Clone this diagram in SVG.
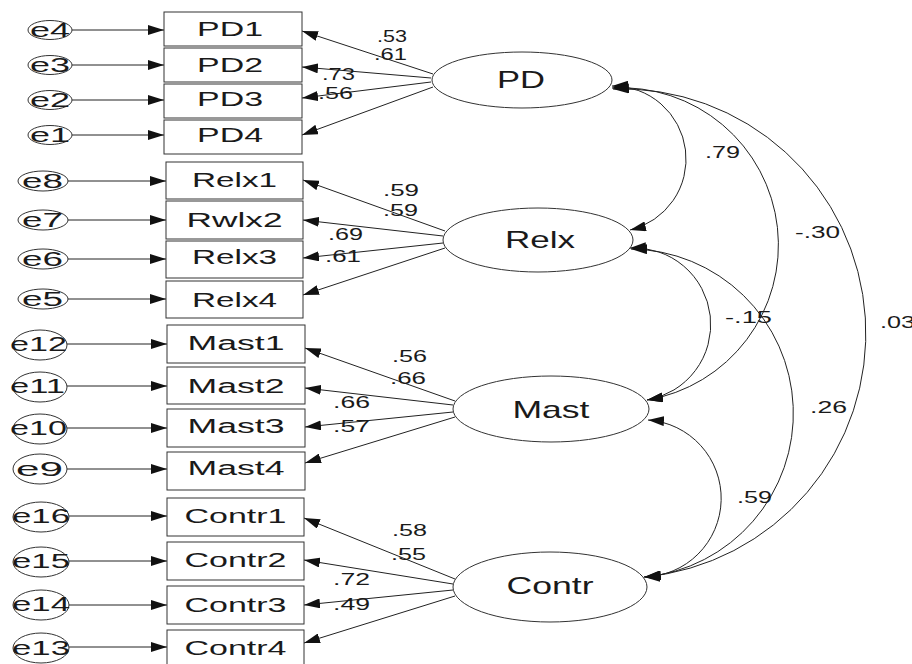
<svg xmlns="http://www.w3.org/2000/svg" width="912" height="664" viewBox="0 0 912 664">
<defs>
<marker id="ah" viewBox="0 0 16 10" refX="16" refY="5" markerWidth="16" markerHeight="10" markerUnits="userSpaceOnUse" orient="auto-start-reverse"><path d="M0,0 L16,5 L0,10 z" fill="#111"/></marker>
<style>
text{font-family:"Liberation Sans",Arial,sans-serif;fill:#1a1a1a;}
.box{fill:#fff;stroke:#333;stroke-width:1;}
.ell{fill:#fff;stroke:#333;stroke-width:1;}
.bt{font-size:20px;text-anchor:middle;}
.ft{font-size:24px;text-anchor:middle;}
.et{font-size:20px;}
.lb{font-size:17px;}
.cn{fill:none;stroke:#222;stroke-width:1;marker-end:url(#ah);}
.cv{fill:none;stroke:#222;stroke-width:1;marker-start:url(#ah);marker-end:url(#ah);}
</style>
</defs>
<rect width="912" height="664" fill="#fff"/>

<g id="connectors">
<!-- error arrows -->
<line class="cn" x1="72" y1="30" x2="164" y2="30"/>
<line class="cn" x1="72" y1="65" x2="164" y2="65"/>
<line class="cn" x1="72" y1="100" x2="164" y2="100"/>
<line class="cn" x1="72" y1="135" x2="164" y2="135"/>
<line class="cn" x1="68" y1="181" x2="166" y2="181"/>
<line class="cn" x1="68" y1="220" x2="166" y2="220"/>
<line class="cn" x1="68" y1="259" x2="166" y2="259"/>
<line class="cn" x1="68" y1="299" x2="166" y2="299"/>
<line class="cn" x1="67" y1="344" x2="167" y2="344"/>
<line class="cn" x1="67" y1="386" x2="167" y2="386"/>
<line class="cn" x1="67" y1="428" x2="167" y2="428"/>
<line class="cn" x1="67" y1="469" x2="167" y2="469"/>
<line class="cn" x1="69" y1="516" x2="167" y2="516"/>
<line class="cn" x1="69" y1="561" x2="167" y2="561"/>
<line class="cn" x1="69" y1="605" x2="167" y2="605"/>
<line class="cn" x1="69" y1="647" x2="167" y2="647"/>
<!-- loadings -->
<line class="cn" x1="433" y1="74" x2="302" y2="31"/>
<line class="cn" x1="431" y1="78" x2="302" y2="67"/>
<line class="cn" x1="431" y1="82" x2="302" y2="98"/>
<line class="cn" x1="433" y1="87" x2="302" y2="135"/>
<line class="cn" x1="445" y1="231" x2="303" y2="180"/>
<line class="cn" x1="443" y1="236" x2="303" y2="220"/>
<line class="cn" x1="443" y1="243" x2="303" y2="258"/>
<line class="cn" x1="445" y1="248" x2="303" y2="295"/>
<line class="cn" x1="455" y1="401" x2="305" y2="348"/>
<line class="cn" x1="453" y1="405" x2="305" y2="388"/>
<line class="cn" x1="453" y1="412" x2="305" y2="427"/>
<line class="cn" x1="455" y1="417" x2="305" y2="463"/>
<line class="cn" x1="455" y1="579" x2="304" y2="518"/>
<line class="cn" x1="453" y1="584" x2="304" y2="560"/>
<line class="cn" x1="453" y1="590" x2="304" y2="605"/>
<line class="cn" x1="455" y1="596" x2="304" y2="643"/>
<!-- covariances -->
<path class="cv" d="M612,86 A73,73 0 0 1 630,230"/>
<path class="cv" d="M612,88 A157.2,157.2 0 0 1 647,400"/>
<path class="cv" d="M613,89 A244.6,244.6 0 0 1 644,577"/>
<path class="cv" d="M630,248 A76.6,76.6 0 0 1 647,400"/>
<path class="cv" d="M631,249 A164.4,164.4 0 0 1 645,577"/>
<path class="cv" d="M648,420 A78.6,78.6 0 0 1 644,577"/>
</g>

<g id="labels">
<text class="lb" x="377" y="42" textLength="30" lengthAdjust="spacingAndGlyphs">.53</text>
<text class="lb" x="374" y="60" textLength="33" lengthAdjust="spacingAndGlyphs">.61</text>
<text class="lb" x="322" y="80" textLength="33" lengthAdjust="spacingAndGlyphs">.73</text>
<text class="lb" x="318" y="99" textLength="35" lengthAdjust="spacingAndGlyphs">.56</text>
<text class="lb" x="383" y="196" textLength="36" lengthAdjust="spacingAndGlyphs">.59</text>
<text class="lb" x="383" y="216" textLength="35" lengthAdjust="spacingAndGlyphs">.59</text>
<text class="lb" x="328" y="240" textLength="35" lengthAdjust="spacingAndGlyphs">.69</text>
<text class="lb" x="325" y="262" textLength="36" lengthAdjust="spacingAndGlyphs">.61</text>
<text class="lb" x="392" y="362" textLength="35" lengthAdjust="spacingAndGlyphs">.56</text>
<text class="lb" x="390" y="384" textLength="36" lengthAdjust="spacingAndGlyphs">.66</text>
<text class="lb" x="333" y="408" textLength="37" lengthAdjust="spacingAndGlyphs">.66</text>
<text class="lb" x="333" y="432" textLength="37" lengthAdjust="spacingAndGlyphs">.57</text>
<text class="lb" x="392" y="536" textLength="35" lengthAdjust="spacingAndGlyphs">.58</text>
<text class="lb" x="391" y="560" textLength="35" lengthAdjust="spacingAndGlyphs">.55</text>
<text class="lb" x="333" y="585" textLength="37" lengthAdjust="spacingAndGlyphs">.72</text>
<text class="lb" x="333" y="610" textLength="37" lengthAdjust="spacingAndGlyphs">.49</text>
<text class="lb" x="705" y="158" textLength="35" lengthAdjust="spacingAndGlyphs">.79</text>
<text class="lb" x="795" y="238" textLength="45" lengthAdjust="spacingAndGlyphs">-.30</text>
<text class="lb" x="725" y="323" textLength="47" lengthAdjust="spacingAndGlyphs">-.15</text>
<text class="lb" x="880" y="328" textLength="35" lengthAdjust="spacingAndGlyphs">.03</text>
<text class="lb" x="810" y="413" textLength="37" lengthAdjust="spacingAndGlyphs">.26</text>
<text class="lb" x="737" y="503" textLength="35" lengthAdjust="spacingAndGlyphs">.59</text>
</g>

<!-- error terms -->
<g id="e4"><ellipse class="ell" cx="50" cy="30" rx="22" ry="9.5"/><text class="et" x="30" y="37" textLength="40" lengthAdjust="spacingAndGlyphs">e4</text></g>
<g id="e3"><ellipse class="ell" cx="50" cy="65" rx="22" ry="9.5"/><text class="et" x="30" y="72" textLength="40" lengthAdjust="spacingAndGlyphs">e3</text></g>
<g id="e2"><ellipse class="ell" cx="50" cy="100" rx="22" ry="9.5"/><text class="et" x="30" y="107" textLength="40" lengthAdjust="spacingAndGlyphs">e2</text></g>
<g id="e1"><ellipse class="ell" cx="50" cy="135" rx="22" ry="9.5"/><text class="et" x="30" y="142" textLength="40" lengthAdjust="spacingAndGlyphs">e1</text></g>
<g id="e8"><ellipse class="ell" cx="43" cy="181" rx="25" ry="10"/><text class="et" x="22" y="188" textLength="41" lengthAdjust="spacingAndGlyphs">e8</text></g>
<g id="e7"><ellipse class="ell" cx="43" cy="220" rx="25" ry="10"/><text class="et" x="22" y="227" textLength="41" lengthAdjust="spacingAndGlyphs">e7</text></g>
<g id="e6"><ellipse class="ell" cx="43" cy="259" rx="25" ry="10"/><text class="et" x="22" y="266" textLength="41" lengthAdjust="spacingAndGlyphs">e6</text></g>
<g id="e5"><ellipse class="ell" cx="43" cy="299" rx="25" ry="10"/><text class="et" x="22" y="306" textLength="41" lengthAdjust="spacingAndGlyphs">e5</text></g>
<g id="e12"><ellipse class="ell" cx="40" cy="345" rx="27" ry="15"/><text class="et" x="10" y="351" textLength="57" lengthAdjust="spacingAndGlyphs">e12</text></g>
<g id="e11"><ellipse class="ell" cx="40" cy="387" rx="27" ry="15"/><text class="et" x="10" y="393" textLength="55" lengthAdjust="spacingAndGlyphs">e11</text></g>
<g id="e10"><ellipse class="ell" cx="40" cy="429" rx="27" ry="15"/><text class="et" x="10" y="435" textLength="57" lengthAdjust="spacingAndGlyphs">e10</text></g>
<g id="e9"><ellipse class="ell" cx="40" cy="469" rx="27" ry="15"/><text class="et" x="16" y="476" textLength="47" lengthAdjust="spacingAndGlyphs">e9</text></g>
<g id="e16"><ellipse class="ell" cx="41" cy="517" rx="28" ry="15"/><text class="et" x="12" y="523" textLength="58" lengthAdjust="spacingAndGlyphs">e16</text></g>
<g id="e15"><ellipse class="ell" cx="41" cy="562" rx="28" ry="15"/><text class="et" x="12" y="568" textLength="58" lengthAdjust="spacingAndGlyphs">e15</text></g>
<g id="e14"><ellipse class="ell" cx="41" cy="605" rx="28" ry="15"/><text class="et" x="12" y="611" textLength="58" lengthAdjust="spacingAndGlyphs">e14</text></g>
<g id="e13"><ellipse class="ell" cx="41" cy="648" rx="28" ry="15"/><text class="et" x="12" y="655" textLength="58" lengthAdjust="spacingAndGlyphs">e13</text></g>

<!-- indicators -->
<g id="PD1"><rect class="box" x="164" y="12" width="138" height="34"/><text class="bt" x="230" y="36" textLength="66" lengthAdjust="spacingAndGlyphs">PD1</text></g>
<g id="PD2"><rect class="box" x="164" y="48" width="138" height="34"/><text class="bt" x="230" y="72" textLength="66" lengthAdjust="spacingAndGlyphs">PD2</text></g>
<g id="PD3"><rect class="box" x="164" y="84" width="138" height="34"/><text class="bt" x="230" y="106" textLength="66" lengthAdjust="spacingAndGlyphs">PD3</text></g>
<g id="PD4"><rect class="box" x="164" y="120" width="138" height="34"/><text class="bt" x="230" y="142" textLength="66" lengthAdjust="spacingAndGlyphs">PD4</text></g>
<g id="Relx1"><rect class="box" x="166" y="162" width="137" height="37"/><text class="bt" x="234.5" y="187" textLength="85" lengthAdjust="spacingAndGlyphs">Relx1</text></g>
<g id="Rwlx2"><rect class="box" x="166" y="201" width="137" height="38"/><text class="bt" x="234.5" y="227" textLength="96" lengthAdjust="spacingAndGlyphs">Rwlx2</text></g>
<g id="Relx3"><rect class="box" x="166" y="241" width="137" height="37"/><text class="bt" x="234.5" y="264" textLength="85" lengthAdjust="spacingAndGlyphs">Relx3</text></g>
<g id="Relx4"><rect class="box" x="166" y="281" width="137" height="37"/><text class="bt" x="234.5" y="307" textLength="85" lengthAdjust="spacingAndGlyphs">Relx4</text></g>
<g id="Mast1"><rect class="box" x="167" y="325" width="138" height="38"/><text class="bt" x="236" y="350" textLength="97" lengthAdjust="spacingAndGlyphs">Mast1</text></g>
<g id="Mast2"><rect class="box" x="167" y="367" width="138" height="37"/><text class="bt" x="236" y="393" textLength="97" lengthAdjust="spacingAndGlyphs">Mast2</text></g>
<g id="Mast3"><rect class="box" x="167" y="409" width="138" height="38"/><text class="bt" x="236" y="433" textLength="97" lengthAdjust="spacingAndGlyphs">Mast3</text></g>
<g id="Mast4"><rect class="box" x="167" y="452" width="138" height="38"/><text class="bt" x="236" y="475" textLength="97" lengthAdjust="spacingAndGlyphs">Mast4</text></g>
<g id="Contr1"><rect class="box" x="167" y="498" width="137" height="38"/><text class="bt" x="235.5" y="523" textLength="102" lengthAdjust="spacingAndGlyphs">Contr1</text></g>
<g id="Contr2"><rect class="box" x="167" y="542" width="137" height="38"/><text class="bt" x="235.5" y="567" textLength="102" lengthAdjust="spacingAndGlyphs">Contr2</text></g>
<g id="Contr3"><rect class="box" x="167" y="586" width="137" height="38"/><text class="bt" x="235.5" y="612" textLength="102" lengthAdjust="spacingAndGlyphs">Contr3</text></g>
<g id="Contr4"><rect class="box" x="167" y="630" width="137" height="38"/><text class="bt" x="235.5" y="655" textLength="102" lengthAdjust="spacingAndGlyphs">Contr4</text></g>

<!-- latent factors -->
<g id="PD"><ellipse class="ell" cx="522" cy="80" rx="90" ry="28"/><text class="ft" x="521" y="88" textLength="48" lengthAdjust="spacingAndGlyphs">PD</text></g>
<g id="Relx"><ellipse class="ell" cx="538" cy="240" rx="95" ry="32"/><text class="ft" x="540" y="248" textLength="70" lengthAdjust="spacingAndGlyphs">Relx</text></g>
<g id="Mast"><ellipse class="ell" cx="551" cy="409" rx="98" ry="33"/><text class="ft" x="551" y="418" textLength="77" lengthAdjust="spacingAndGlyphs">Mast</text></g>
<g id="Contr"><ellipse class="ell" cx="550" cy="587" rx="97" ry="35"/><text class="ft" x="550" y="594" textLength="87" lengthAdjust="spacingAndGlyphs">Contr</text></g>
</svg>
